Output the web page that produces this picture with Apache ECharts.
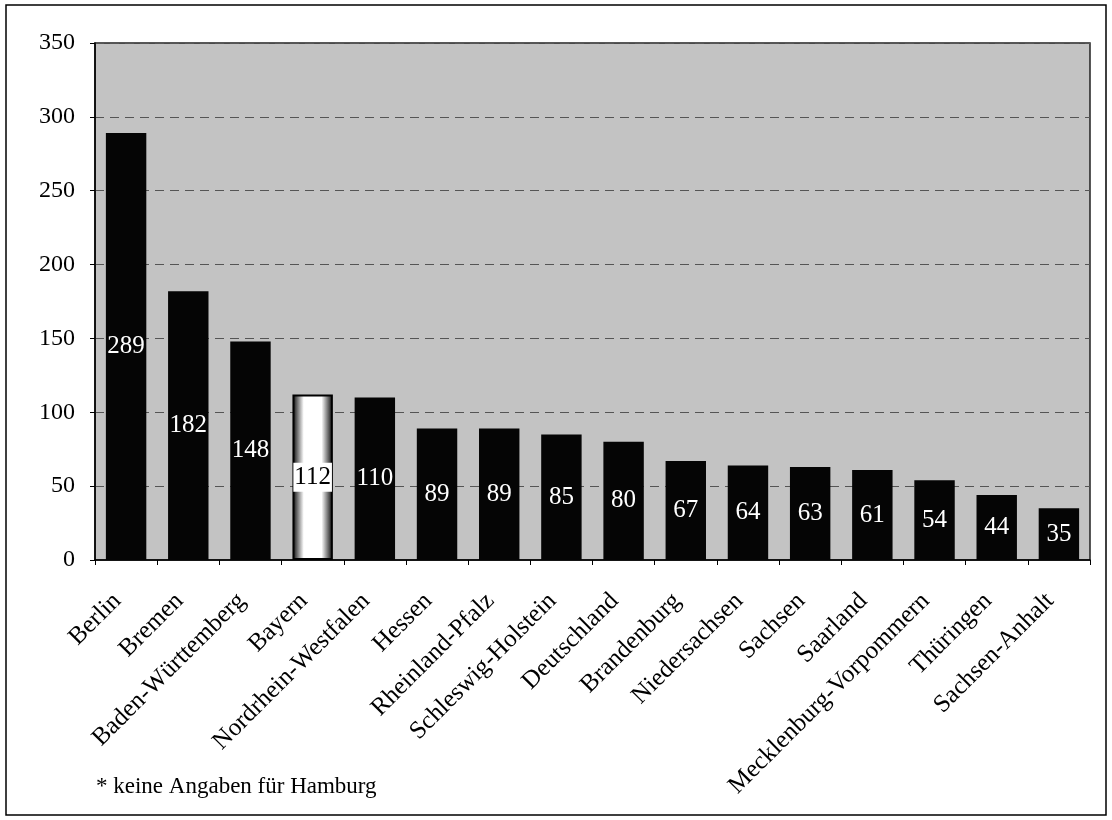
<!DOCTYPE html>
<html><head><meta charset="utf-8">
<script src="https://cdn.jsdelivr.net/npm/echarts@6/dist/echarts.min.js"></script>
<style>html,body{margin:0;padding:0;background:#fff}#c{width:1112px;height:820px}</style>
</head><body><div id="c"></div>
<script>
const categories = ["Berlin","Bremen","Baden-Württemberg","Bayern","Nordrhein-Westfalen","Hessen","Rheinland-Pfalz","Schleswig-Holstein","Deutschland","Brandenburg","Niedersachsen","Sachsen","Saarland","Mecklenburg-Vorpommern","Thüringen","Sachsen-Anhalt"];
const values = [289,182,148,112,110,89,89,85,80,67,64,63,61,54,44,35];
const highlight = "Bayern";
const yTicks = {min:0, max:350, interval:50};
const footnote = "* keine Angaben für Hamburg";

const font = "Liberation Serif";
const data = values.map((v,i)=>{
  if (categories[i] === highlight) {
    return {value:v,
      itemStyle:{color:new echarts.graphic.LinearGradient(0,0,1,0,[
        {offset:0,color:'#000'},{offset:0.28,color:'#fff'},{offset:0.72,color:'#fff'},{offset:1,color:'#000'}]),
        borderColor:'#000',borderWidth:2},
      label:{color:'#000',backgroundColor:'#fff',padding:[2,1]}};
  }
  return v;
});
const chart = echarts.init(document.getElementById('c'));
chart.setOption({
  animation:false,
  title:{text:footnote,left:91,top:770,textStyle:{fontFamily:font,fontSize:23,fontWeight:'normal',color:'#000'}},
  grid:{left:95,right:22,top:43,bottom:260,show:true,backgroundColor:'#c3c3c3',borderColor:'#222',borderWidth:1.5},
  xAxis:{type:'category',data:categories,
    axisLine:{lineStyle:{color:'#000',width:1.5}},
    axisTick:{show:true,alignWithLabel:false,length:5,lineStyle:{color:'#000'}},
    axisLabel:{rotate:45,fontFamily:font,fontSize:25,color:'#000',margin:46,interval:0,verticalAlign:'bottom'}},
  yAxis:{type:'value',min:yTicks.min,max:yTicks.max,interval:yTicks.interval,
    axisLine:{show:true,lineStyle:{color:'#000',width:1.5}},
    axisTick:{show:true,length:5,lineStyle:{color:'#000'}},
    axisLabel:{fontFamily:font,fontSize:24,color:'#000',margin:20},
    splitLine:{show:true,lineStyle:{color:'#555',type:[9,6],width:1}}},
  series:[{type:'bar',data:data,barCategoryGap:'35%',
    itemStyle:{color:'#050505'},
    label:{show:true,position:'inside',fontFamily:font,fontSize:25,color:'#fff'}}],
  graphic:[
    {type:'rect',shape:{x:6,y:5,width:1100,height:810},style:{fill:'none',stroke:'#000',lineWidth:1.5},silent:true}
  ]
});
</script></body></html>
